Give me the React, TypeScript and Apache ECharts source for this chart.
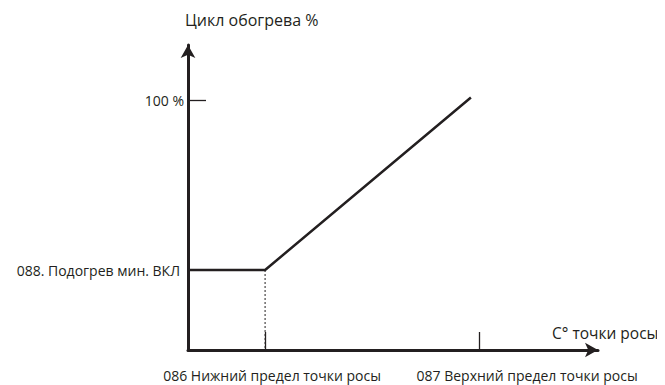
import React, { useEffect, useRef } from "react";
import * as echarts from "echarts";

const xMax = 100;
const yMax = 122;
const lowerLimit = 18.8;
const upperLimit = 71;
const minHeat = 32;
const fullHeat = 101;
const curve: [number, number][] = [
  [0, minHeat],
  [lowerLimit, minHeat],
  [69, fullHeat],
];
const guide: [number, number][] = [
  [lowerLimit, minHeat],
  [lowerLimit, 0],
];
const xTickValues = [lowerLimit, upperLimit];
const xTickLabels = ["086 Нижний предел точки росы", "087 Верхний предел точки росы"];
const yTickValues = [100];
const yLabelValues = [minHeat, 100];
const yLabels = ["088. Подогрев мин. ВКЛ", "100 %"];
const titleText = "Цикл обогрева %";
const xName = "C° точки росы";

const ink = "#231f20";
const font = "'Open Sans', 'Noto Sans', sans-serif";

export default function App() {
  const ref = useRef<HTMLDivElement>(null);
  useEffect(() => {
    if (!ref.current) return;
    const chart = echarts.init(ref.current, undefined, { renderer: "svg" });
    chart.setOption({
      animation: false,
      textStyle: { fontFamily: font, color: ink },
      title: {
        text: titleText,
        left: 180,
        top: 7,
        textStyle: { fontFamily: font, fontSize: 16, fontWeight: "normal", color: ink },
      },
      grid: { left: 188, right: 67, top: 45, bottom: 35 },
      xAxis: {
        type: "value",
        min: 0,
        max: xMax,
        name: xName,
        nameLocation: "end",
        nameGap: -46,
        nameTextStyle: {
          fontFamily: font,
          fontSize: 15.5,
          color: ink,
          align: "left",
          verticalAlign: "bottom",
          padding: [0, 0, 9, 0],
        },
        splitLine: { show: false },
        axisLine: {
          show: true,
          onZero: false,
          symbol: ["none", "arrow"],
          symbolSize: [11, 13],
          lineStyle: { color: ink, width: 3 },
        },
        axisTick: {
          show: true,
          inside: true,
          length: 18,
          customValues: xTickValues,
          lineStyle: { color: ink, width: 1.3 },
        },
        axisLabel: {
          show: true,
          customValues: xTickValues,
          margin: 18,
          fontSize: 14,
          color: ink,
          fontFamily: font,
          formatter: (v: number) => {
            const i = xTickValues.findIndex((t) => Math.abs(t - v) < 1e-6);
            return i === 1 ? `{r|${xTickLabels[i]}}` : `{c|${xTickLabels[i] ?? ""}}`;
          },
          rich: {
            c: { fontSize: 14, color: ink, fontFamily: font, padding: [0, 0, 0, 14] },
            r: { fontSize: 14, color: ink, fontFamily: font, padding: [0, 0, 0, 96] },
          },
        },
      },
      yAxis: {
        type: "value",
        min: 0,
        max: yMax,
        splitLine: { show: false },
        axisLine: {
          show: true,
          onZero: false,
          symbol: ["none", "arrow"],
          symbolSize: [11, 13],
          lineStyle: { color: ink, width: 3 },
        },
        axisTick: {
          show: true,
          inside: true,
          length: 18,
          customValues: yTickValues,
          lineStyle: { color: ink, width: 1.3 },
        },
        axisLabel: {
          show: true,
          customValues: yLabelValues,
          margin: 4,
          fontSize: 14,
          color: ink,
          fontFamily: font,
          formatter: (v: number) => {
            const i = yLabelValues.findIndex((t) => Math.abs(t - v) < 1e-6);
            return i === 0 ? `{m|${yLabels[i]}}` : `{c|${yLabels[i] ?? ""}}`;
          },
          rich: {
            c: { fontSize: 14, color: ink, fontFamily: font },
            m: { fontSize: 14, color: ink, fontFamily: font, padding: [0, 4, 0, 0] },
          },
        },
      },
      series: [
        {
          type: "line",
          data: guide,
          symbol: "none",
          silent: true,
          lineStyle: { color: ink, width: 1, type: [2, 2] },
        },
        {
          type: "line",
          data: curve,
          symbol: "none",
          silent: true,
          lineStyle: { color: ink, width: 2.5 },
        },
      ],
    });
    return () => chart.dispose();
  }, []);
  return <div ref={ref} style={{ width: 665, height: 385, marginLeft: -8, marginTop: -8 }} />;
}
